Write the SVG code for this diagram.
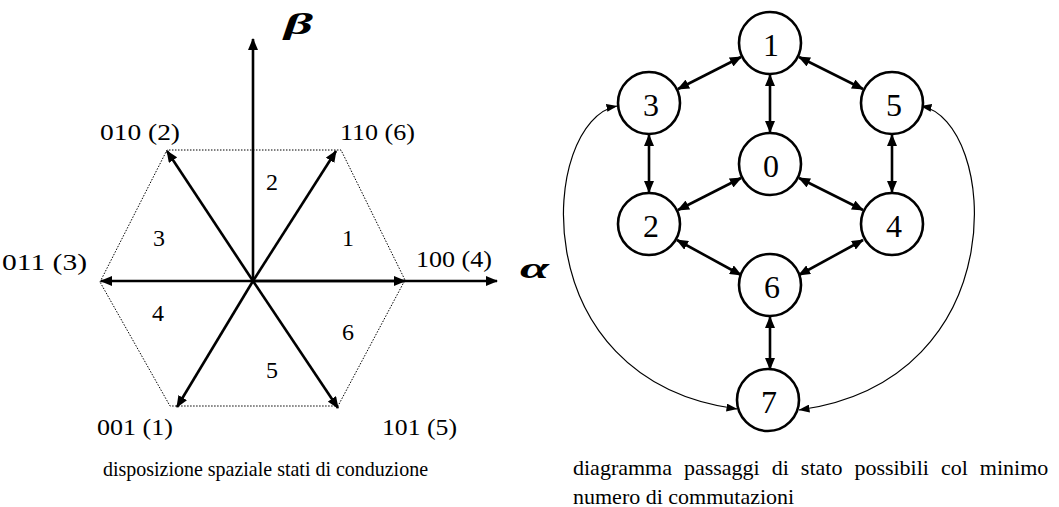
<svg xmlns="http://www.w3.org/2000/svg" width="1059" height="507" viewBox="0 0 1059 507">
<defs>
<style>
.t{font-family:"Liberation Serif","Times New Roman",serif;fill:#000}
.vec{stroke:#000;stroke-width:2.6;fill:none;marker-end:url(#ah)}
.hex{stroke:#000;stroke-width:1;stroke-dasharray:1.5 1.5;fill:none}
.edge{stroke:#000;stroke-width:2.6;fill:none;marker-start:url(#ah);marker-end:url(#ah)}
.arc{stroke:#000;stroke-width:1.2;fill:none;marker-start:url(#ahs);marker-end:url(#ahs)}
.node circle{fill:#fff;stroke:#000;stroke-width:2.6}
.node text{font-size:32px;text-anchor:middle}
.lbl{font-size:24px}
.sec{font-size:24px;text-anchor:middle}
</style>
<marker id="ah" viewBox="0 0 12 10" refX="11" refY="5" markerWidth="12" markerHeight="10" markerUnits="userSpaceOnUse" orient="auto-start-reverse"><path d="M0,0 L12,5 L0,10 z" fill="#000"/></marker>
<marker id="ahs" viewBox="0 0 11 8" refX="10.5" refY="4" markerWidth="11" markerHeight="8" markerUnits="userSpaceOnUse" orient="auto-start-reverse"><path d="M0,0 L11,4 L0,8 z" fill="#000"/></marker>
</defs>
<rect width="1059" height="507" fill="#fff"/>

<g id="space-vectors">
<polygon class="hex" points="100,282 167,150 341,150 405,280 338,406 170,406"/>
<line class="vec" x1="253" y1="281" x2="253" y2="39"/>
<line class="vec" x1="253" y1="281" x2="497" y2="281"/>
<line class="vec" x1="253" y1="281" x2="405" y2="281"/>
<line class="vec" x1="253" y1="281" x2="101" y2="281"/>
<line class="vec" x1="253" y1="281" x2="336" y2="151"/>
<line class="vec" x1="253" y1="281" x2="167" y2="151"/>
<line class="vec" x1="253" y1="281" x2="177" y2="407"/>
<line class="vec" x1="253" y1="281" x2="338" y2="408"/>
<text class="t" x="284" y="34" font-size="30" font-style="italic" font-weight="bold" textLength="29" lengthAdjust="spacingAndGlyphs">β</text>
<text class="t" x="520" y="278" font-size="30" font-style="italic" font-weight="bold" textLength="29" lengthAdjust="spacingAndGlyphs">α</text>
<text class="t lbl" x="100" y="140" textLength="80" lengthAdjust="spacingAndGlyphs">010 (2)</text>
<text class="t lbl" x="340" y="140" textLength="75" lengthAdjust="spacingAndGlyphs">110 (6)</text>
<text class="t lbl" x="2" y="270" textLength="85" lengthAdjust="spacingAndGlyphs">011 (3)</text>
<text class="t lbl" x="416" y="267" textLength="76" lengthAdjust="spacingAndGlyphs">100 (4)</text>
<text class="t lbl" x="97" y="435" textLength="76" lengthAdjust="spacingAndGlyphs">001 (1)</text>
<text class="t lbl" x="382" y="435" textLength="75" lengthAdjust="spacingAndGlyphs">101 (5)</text>
<text class="t sec" x="272" y="190">2</text>
<text class="t sec" x="159" y="246">3</text>
<text class="t sec" x="348" y="246">1</text>
<text class="t sec" x="158" y="321">4</text>
<text class="t sec" x="272" y="378">5</text>
<text class="t sec" x="348" y="340">6</text>
<text class="t" x="103" y="476" font-size="22" textLength="325" lengthAdjust="spacingAndGlyphs">disposizione spaziale stati di conduzione</text>
</g>

<g id="connectors">
<line class="edge" x1="741" y1="57" x2="678" y2="89"/>
<line class="edge" x1="799" y1="57" x2="863" y2="89"/>
<line class="edge" x1="770" y1="75" x2="770" y2="132"/>
<line class="edge" x1="649" y1="135" x2="649" y2="192"/>
<line class="edge" x1="892" y1="135" x2="892" y2="192"/>
<line class="edge" x1="741" y1="178" x2="678" y2="210"/>
<line class="edge" x1="799" y1="178" x2="863" y2="210"/>
<line class="edge" x1="677" y1="240" x2="741" y2="275"/>
<line class="edge" x1="863" y1="240" x2="799" y2="275"/>
<line class="edge" x1="770" y1="317" x2="770" y2="369"/>
<path class="arc" d="M617,106 C540,120 520,380 737,409"/>
<path class="arc" d="M921,106 C998,120 1018,380 799,410"/>
</g>

<g id="node-1" class="node"><circle cx="770" cy="43" r="31"/><text class="t" x="771" y="56">1</text></g>
<g id="node-3" class="node"><circle cx="649" cy="103" r="31"/><text class="t" x="651" y="116">3</text></g>
<g id="node-5" class="node"><circle cx="892" cy="103" r="31"/><text class="t" x="894" y="116">5</text></g>
<g id="node-0" class="node"><circle cx="770" cy="164" r="31"/><text class="t" x="771" y="177">0</text></g>
<g id="node-2" class="node"><circle cx="649" cy="224" r="31"/><text class="t" x="651" y="237">2</text></g>
<g id="node-4" class="node"><circle cx="892" cy="224" r="31"/><text class="t" x="894" y="237">4</text></g>
<g id="node-6" class="node"><circle cx="770" cy="285" r="31"/><text class="t" x="772" y="298">6</text></g>
<g id="node-7" class="node"><circle cx="768" cy="400" r="31"/><text class="t" x="769" y="413">7</text></g>

<g id="caption-right">
<text class="t" x="573" y="475" font-size="22" word-spacing="6.5">diagramma passaggi di stato possibili col minimo</text>
<text class="t" x="573" y="504" font-size="22">numero di commutazioni</text>
</g>
</svg>
